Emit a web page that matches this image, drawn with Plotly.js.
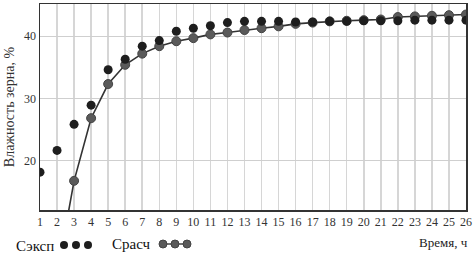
<!DOCTYPE html>
<html><head><meta charset="utf-8">
<script src="https://cdn.plot.ly/plotly-3.0.1.min.js"></script>
<style>html,body{margin:0;padding:0;background:#fff}#chart{width:476px;height:261px}</style>
</head><body><div id="chart"></div>
<script>
const hours = [1,2,3,4,5,6,7,8,9,10,11,12,13,14,15,16,17,18,19,20,21,22,23,24,25,26];
const expValues = [18.1,21.6,25.8,28.9,34.6,36.3,38.4,39.3,40.8,41.3,41.7,42.2,42.4,42.4,42.4,42.3,42.3,42.4,42.4,42.5,42.5,42.5,42.6,42.6,42.6,42.6];
const calcHours = [2,3,4,5,6,7,8,9,10,11,12,13,14,15,16,17,18,19,20,21,22,23,24,25,26];
const calcValues = [1.5,16.7,26.8,32.3,35.4,37.2,38.4,39.2,39.7,40.3,40.6,41.0,41.3,41.6,42.0,42.2,42.4,42.5,42.6,42.7,43.1,43.2,43.3,43.4,43.5];
const yTicks = [20,30,40];
const serif = '"Liberation Serif", "DejaVu Serif", serif';

const traces = [
  {x: calcHours, y: calcValues, mode: 'lines+markers', name: 'Срасч',
   line: {color: '#333333', width: 1.6},
   marker: {color: '#5a5a5a', size: 9, line: {color: '#444', width: 1}}, cliponaxis: true},
  {x: hours, y: expValues, mode: 'markers', name: 'Сэксп',
   marker: {color: '#1e1e1e', size: 9}, cliponaxis: true}
];

const W = 426, H = 206;
function px(p){ return (p-40)/W; }
function py(p){ return (210-p)/H; }

const shapes = [];
[64,76,88].forEach(c => shapes.push({type:'circle', xref:'paper', yref:'paper', xsizemode:'pixel', ysizemode:'pixel',
  xanchor: px(c), yanchor: py(245), x0:-4, x1:4, y0:-4, y1:4, fillcolor:'#1e1e1e', line:{width:0}}));
shapes.push({type:'line', xref:'paper', yref:'paper', x0:px(163), x1:px(187), y0:py(244), y1:py(244), line:{color:'#444', width:1.5}});
[163,175,187].forEach(c => shapes.push({type:'circle', xref:'paper', yref:'paper', xsizemode:'pixel', ysizemode:'pixel',
  xanchor: px(c), yanchor: py(244), x0:-4, x1:4, y0:-4, y1:4, fillcolor:'#5a5a5a', line:{color:'#444', width:1}}));

const layout = {
  width: 476, height: 261,
  margin: {l: 40, r: 10, t: 4, b: 51},
  paper_bgcolor: '#fff', plot_bgcolor: '#fff',
  showlegend: false,
  font: {family: serif, color: '#222'},
  xaxis: {range: [1,26], tickvals: hours, ticktext: hours.map(String), showgrid: true, gridcolor: '#d6d6d6', gridwidth: 1.5,
    showline: true, linecolor: '#333', linewidth: 1.5, mirror: true, zeroline: false, ticks: '',
    tickfont: {family: serif, size: 12, color: '#333'}},
  yaxis: {range: [12, 45.2], tickvals: yTicks, showgrid: true, gridcolor: '#cfcfcf', gridwidth: 1,
    showline: true, linecolor: '#333', linewidth: 1.5, mirror: true, zeroline: false, ticks: '',
    tickfont: {family: serif, size: 12, color: '#333'},
    title: {text: 'Влажность зерна, %', font: {family: serif, size: 14, color: '#333'}, standoff: 6}},
  shapes: shapes,
  annotations: [
    {xref:'paper', yref:'paper', x: px(14), y: py(246), xanchor:'left', yanchor:'middle', showarrow:false,
     text:'Сэксп', font:{family: serif, size: 15, color:'#111'}},
    {xref:'paper', yref:'paper', x: px(110), y: py(244), xanchor:'left', yanchor:'middle', showarrow:false,
     text:'Срасч', font:{family: serif, size: 15, color:'#111'}},
    {xref:'paper', yref:'paper', x: px(470), y: py(242), xanchor:'right', yanchor:'middle', showarrow:false,
     text:'Время, ч', font:{family: serif, size: 13, color:'#222'}}
  ]
};
Plotly.newPlot('chart', traces, layout, {displayModeBar: false, staticPlot: true});
</script></body></html>
